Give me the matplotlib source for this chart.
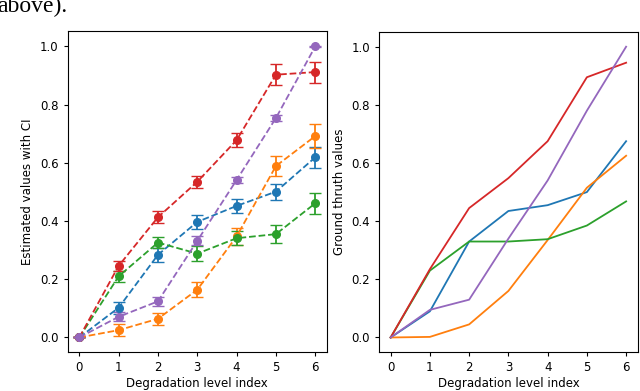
import numpy as np
import matplotlib
matplotlib.use('Agg')
import matplotlib.pyplot as plt

# Degradation levels
levels = [0, 1, 2, 3, 4, 5, 6]

# Estimated values (left) and half-width of CI, in tab10 order: blue, orange, green, red, purple
est_blue = [0.0, 0.102, 0.284, 0.397, 0.452, 0.501, 0.619]
est_orange = [0.0, 0.025, 0.064, 0.164, 0.347, 0.589, 0.692]
est_green = [0.0, 0.210, 0.326, 0.288, 0.341, 0.355, 0.461]
est_red = [0.0, 0.246, 0.413, 0.535, 0.678, 0.903, 0.912]
est_purple = [0.0, 0.071, 0.124, 0.332, 0.541, 0.754, 1.0]

ci_blue = [0.0, 0.02, 0.025, 0.025, 0.025, 0.028, 0.037]
ci_orange = [0.0, 0.02, 0.02, 0.025, 0.028, 0.033, 0.041]
ci_green = [0.0, 0.02, 0.02, 0.025, 0.025, 0.03, 0.037]
ci_red = [0.0, 0.018, 0.02, 0.02, 0.025, 0.037, 0.036]
ci_purple = [0.0, 0.015, 0.015, 0.015, 0.01, 0.01, 0.003]

# Ground truth values (right)
gt_blue = [0.0, 0.09, 0.33, 0.435, 0.455, 0.50, 0.675]
gt_orange = [0.0, 0.002, 0.045, 0.16, 0.335, 0.515, 0.625]
gt_green = [0.0, 0.23, 0.33, 0.33, 0.338, 0.385, 0.468]
gt_red = [0.0, 0.235, 0.445, 0.548, 0.675, 0.895, 0.945]
gt_purple = [0.0, 0.095, 0.13, 0.34, 0.54, 0.78, 1.0]

est = [est_blue, est_orange, est_green, est_red, est_purple]
ci = [ci_blue, ci_orange, ci_green, ci_red, ci_purple]
gt = [gt_blue, gt_orange, gt_green, gt_red, gt_purple]

plt.rcParams['font.size'] = 8.5
plt.rcParams['xtick.major.size'] = 3
plt.rcParams['ytick.major.size'] = 3

fig = plt.figure(figsize=(6.4, 3.91), dpi=100)
ax1 = fig.add_axes([0.1055, 0.0997, 0.4055, 0.821])
ax2 = fig.add_axes([0.592, 0.0997, 0.4047, 0.818])

# Estimated values with CI
for e, c in zip(est, ci):
    ax1.errorbar(levels, e, yerr=c, fmt='o--', capsize=4.5, markersize=5.5, linewidth=1.3)
ax1.set_xlabel('Degradation level index', labelpad=2)
ax1.set_ylabel('Estimated values with CI')
ax1.set_xticks(levels)

# Ground truth
for g in gt:
    ax2.plot(levels, g, linewidth=1.3)
ax2.set_xlabel('Degradation level index', labelpad=2)
ax2.set_ylabel('Ground thruth values')
ax2.set_xticks(levels)

# leftover caption text from the paper crop
fig.text(-0.004, 1 - 12 / 391, 'above).', family='Liberation Serif', fontsize=17,
         ha='left', va='baseline')

fig.savefig('out.png', dpi=100)
